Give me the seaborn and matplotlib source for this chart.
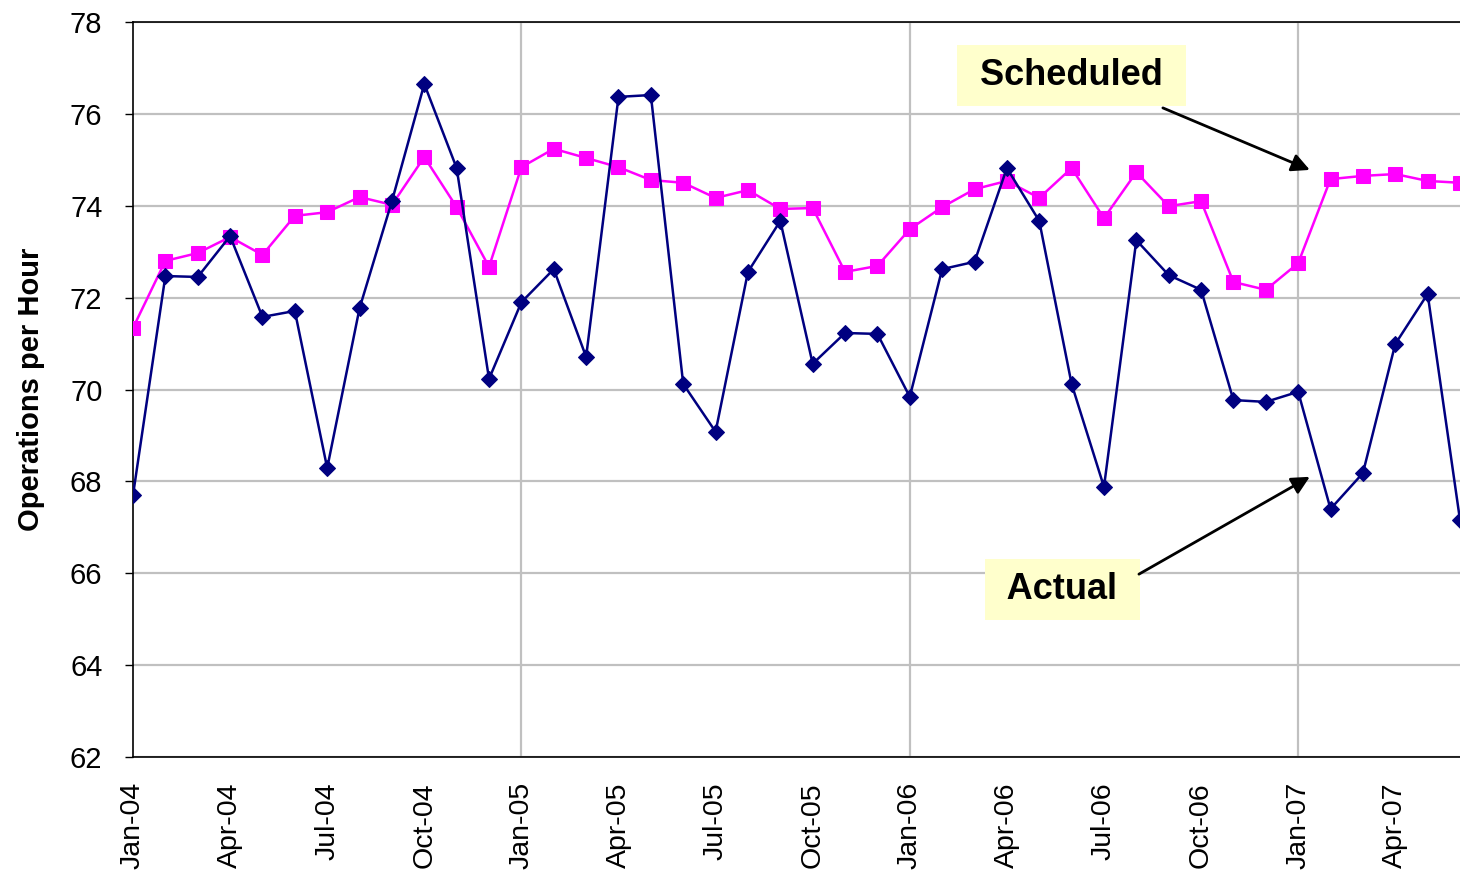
import matplotlib
matplotlib.use("Agg")
import matplotlib.pyplot as plt
import seaborn as sns
import pandas as pd
import numpy as np

months = ["Jan-04","Feb-04","Mar-04","Apr-04","May-04","Jun-04","Jul-04","Aug-04","Sep-04","Oct-04","Nov-04","Dec-04",
          "Jan-05","Feb-05","Mar-05","Apr-05","May-05","Jun-05","Jul-05","Aug-05","Sep-05","Oct-05","Nov-05","Dec-05",
          "Jan-06","Feb-06","Mar-06","Apr-06","May-06","Jun-06","Jul-06","Aug-06","Sep-06","Oct-06","Nov-06","Dec-06",
          "Jan-07","Feb-07","Mar-07","Apr-07","May-07","Jun-07"]

actual = [67.70, 72.47, 72.45, 73.34, 71.58, 71.71, 68.29, 71.77, 74.10, 76.65, 74.82, 70.23,
          71.90, 72.62, 70.71, 76.37, 76.41, 70.12, 69.08, 72.56, 73.67, 70.56, 71.23, 71.21,
          69.84, 72.62, 72.78, 74.82, 73.67, 70.12, 67.88, 73.25, 72.49, 72.17, 69.77, 69.73,
          69.95, 67.40, 68.18, 70.99, 72.08, 67.16]

scheduled = [71.34, 72.80, 72.97, 73.32, 72.93, 73.78, 73.86, 74.19, 74.02, 75.06, 73.97, 72.67,
             74.84, 75.24, 75.04, 74.84, 74.56, 74.50, 74.17, 74.34, 73.93, 73.95, 72.56, 72.69,
             73.49, 73.97, 74.36, 74.54, 74.17, 74.82, 73.73, 74.73, 73.99, 74.10, 72.34, 72.17,
             72.75, 74.58, 74.65, 74.69, 74.54, 74.50]

y_ticks = [62, 64, 66, 68, 70, 72, 74, 76, 78]

sns.set_theme(style="white")
plt.rcParams['font.family'] = ['Liberation Sans', 'DejaVu Sans']
plt.rcParams['text.color'] = 'black'
plt.rcParams['xtick.color'] = 'black'
plt.rcParams['ytick.color'] = 'black'
plt.rcParams['axes.labelcolor'] = 'black'

idx = np.arange(len(months))
df = pd.DataFrame({"idx": idx, "Actual": actual, "Scheduled": scheduled})

fig = plt.figure(figsize=(14.6, 8.71), dpi=100)
ax = fig.add_axes([133/1460, 1-757/871, 1-133/1460, (757-22)/871])

# gridlines
for v in y_ticks:
    ax.axhline(v, color="#C0C0C0", lw=1.6, zorder=0)
for i, m in enumerate(months):
    if m.startswith("Jan") and i > 0:
        ax.axvline(i, color="#C0C0C0", lw=1.6, zorder=0)

sns.lineplot(data=df, x="idx", y="Scheduled", ax=ax, color="#FF00FF", lw=1.8,
             marker="s", markersize=10.5, markeredgecolor="#FF00FF", zorder=3)
sns.lineplot(data=df, x="idx", y="Actual", ax=ax, color="#000080", lw=1.8,
             marker="D", markersize=8.5, markeredgecolor="#000080", zorder=4)

ax.set_xlim(0, 41)
ax.set_ylim(62, 78)
ax.set_yticks(y_ticks)
ax.set_yticklabels([str(v) for v in y_ticks], fontsize=21)
ax.set_xticks(idx[::3])
ax.set_xticklabels(months[::3], rotation=90, fontsize=20.5)
ax.set_xticks(idx[::6], minor=True)
ax.tick_params(axis="x", which="major", length=0, pad=18)
ax.tick_params(axis="x", which="minor", length=8, width=1, direction="inout", color="black", bottom=True)
ax.tick_params(axis="y", which="major", length=6, width=1, direction="out", color="black", left=True, pad=16)

ax.set_xlabel("")
ax.set_ylabel("Operations per Hour", fontsize=21, fontweight="bold")
ax.yaxis.set_label_coords(-0.066, 0.5)

for s in ["left", "bottom", "top"]:
    ax.spines[s].set_visible(True)
    ax.spines[s].set_color("black")
    ax.spines[s].set_linewidth(1.2)
ax.spines["right"].set_visible(False)

box = dict(boxstyle="square,pad=0.36", fc="#FFFFCC", ec="none")
ax.text(28.99, 76.84, " Scheduled ", fontsize=26, fontweight="bold", ha="center", va="center", bbox=box, zorder=5)
ax.text(28.71, 65.65, " Actual ", fontsize=26, fontweight="bold", ha="center", va="center", bbox=box, zorder=5)

arrow = dict(arrowstyle="-|>,head_length=0.9,head_width=0.45", color="black", lw=2, shrinkA=0, shrinkB=0)
ax.annotate("", xy=(36.36, 74.78), xytext=(31.82, 76.13), arrowprops=arrow, zorder=6)
ax.annotate("", xy=(36.36, 68.10), xytext=(31.08, 65.98), arrowprops=arrow, zorder=6)

fig.savefig("out.png", dpi=100)
